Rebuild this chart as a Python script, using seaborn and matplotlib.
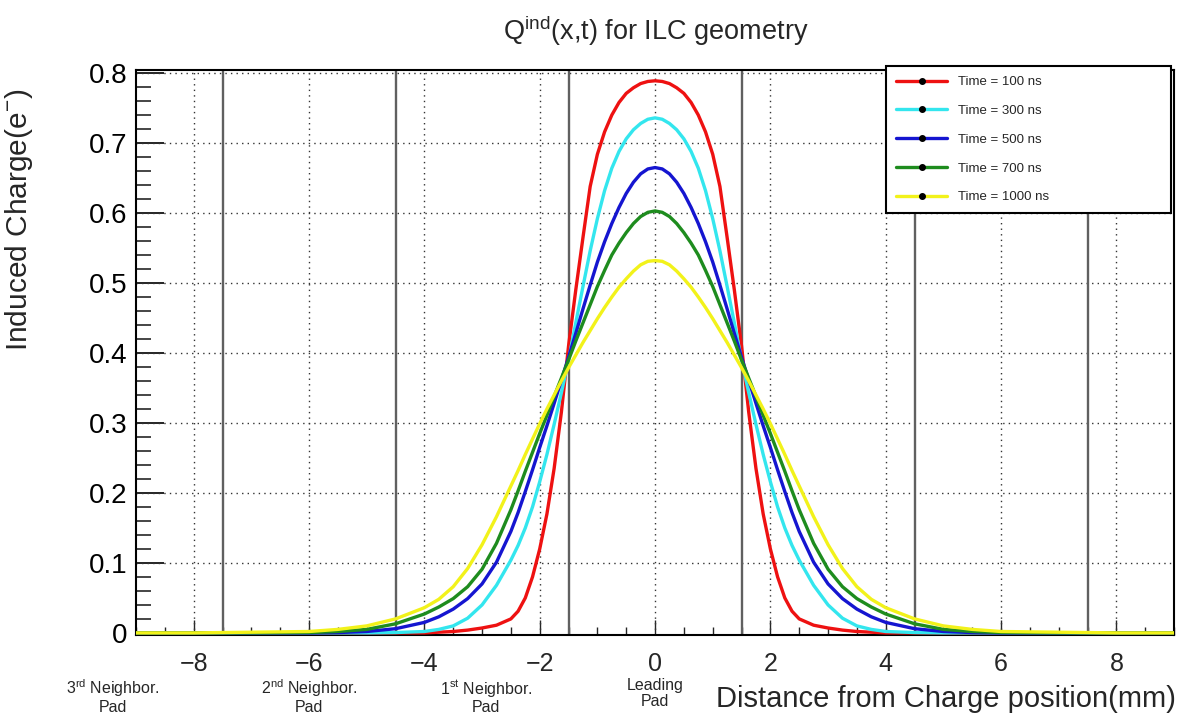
import numpy as np
import pandas as pd
import matplotlib
matplotlib.use("Agg")
import matplotlib.pyplot as plt
from matplotlib.lines import Line2D
from matplotlib.ticker import MultipleLocator
import matplotlib.transforms as mtransforms
import seaborn as sns

# ---------------- data ----------------
x_mm = [-9, -8, -7, -6, -5.5, -5, -4.5, -4, -3.75, -3.5, -3.25, -3, -2.75,
        -2.5, -2.375, -2.25, -2.125, -2, -1.875, -1.75, -1.625, -1.5, -1.375,
        -1.25, -1.125, -1, -0.875, -0.75, -0.625, -0.5, -0.375, -0.25, -0.125,
        0,
        0.125, 0.25, 0.375, 0.5, 0.625, 0.75, 0.875, 1, 1.125, 1.25, 1.375,
        1.5, 1.625, 1.75, 1.875, 2, 2.125, 2.25, 2.375, 2.5,
        2.75, 3, 3.25, 3.5, 3.75, 4, 4.5, 5, 5.5, 6, 7, 8, 9]

q_100ns = [0, 0, 0, 0, 0, 0, 0, 0, 0.001, 0.002, 0.004, 0.007, 0.011,
           0.02, 0.031, 0.05, 0.08, 0.12, 0.17, 0.235, 0.315, 0.41, 0.49,
           0.565, 0.638, 0.684, 0.716, 0.740, 0.758, 0.771, 0.779, 0.785, 0.788,
           0.789,
           0.788, 0.785, 0.779, 0.771, 0.758, 0.740, 0.716, 0.684, 0.638, 0.565, 0.49,
           0.41, 0.315, 0.235, 0.17, 0.12, 0.08, 0.05, 0.031, 0.02,
           0.011, 0.007, 0.004, 0.002, 0.001, 0, 0, 0, 0, 0, 0, 0, 0]

q_300ns = [0, 0, 0, 0, 0, 0, 0.0005, 0.002, 0.005, 0.01, 0.021, 0.04, 0.068,
           0.104, 0.125, 0.15, 0.18, 0.216, 0.255, 0.298, 0.343, 0.39, 0.443,
           0.495, 0.546, 0.592, 0.632, 0.664, 0.688, 0.706, 0.719, 0.728, 0.734,
           0.736,
           0.734, 0.728, 0.719, 0.706, 0.688, 0.664, 0.632, 0.592, 0.546, 0.495, 0.443,
           0.39, 0.343, 0.298, 0.255, 0.216, 0.18, 0.15, 0.125, 0.104,
           0.068, 0.04, 0.021, 0.01, 0.005, 0.002, 0.0005, 0, 0, 0, 0, 0, 0]

q_500ns = [0, 0, 0, 0, 0.0005, 0.002, 0.006, 0.015, 0.023, 0.034, 0.049, 0.07, 0.101,
           0.145, 0.172, 0.202, 0.233, 0.265, 0.296, 0.328, 0.361, 0.394, 0.428,
           0.463, 0.497, 0.530, 0.559, 0.585, 0.608, 0.628, 0.644, 0.656, 0.663,
           0.665,
           0.663, 0.656, 0.644, 0.628, 0.608, 0.585, 0.559, 0.530, 0.497, 0.463, 0.428,
           0.394, 0.361, 0.328, 0.296, 0.265, 0.233, 0.202, 0.172, 0.145,
           0.101, 0.07, 0.049, 0.034, 0.023, 0.015, 0.006, 0.002, 0.0005, 0, 0, 0, 0]

q_700ns = [0, 0, 0, 0.0005, 0.002, 0.005, 0.013, 0.027, 0.037, 0.049, 0.066, 0.091, 0.128,
           0.176, 0.203, 0.231, 0.258, 0.285, 0.311, 0.338, 0.364, 0.390, 0.417,
           0.443, 0.469, 0.495, 0.518, 0.540, 0.557, 0.572, 0.585, 0.595, 0.601,
           0.603,
           0.601, 0.595, 0.585, 0.572, 0.557, 0.540, 0.518, 0.495, 0.469, 0.443, 0.417,
           0.390, 0.364, 0.338, 0.311, 0.285, 0.258, 0.231, 0.203, 0.176,
           0.128, 0.091, 0.066, 0.049, 0.037, 0.027, 0.013, 0.005, 0.002, 0.0005, 0, 0, 0]

q_1000ns = [0, 0, 0.001, 0.002, 0.005, 0.01, 0.02, 0.036, 0.048, 0.066, 0.092, 0.126, 0.166,
            0.210, 0.232, 0.255, 0.277, 0.299, 0.320, 0.340, 0.360, 0.379, 0.397,
            0.415, 0.432, 0.449, 0.465, 0.480, 0.494, 0.506, 0.517, 0.526, 0.531,
            0.532,
            0.531, 0.526, 0.517, 0.506, 0.494, 0.480, 0.465, 0.449, 0.432, 0.415, 0.397,
            0.379, 0.360, 0.340, 0.320, 0.299, 0.277, 0.255, 0.232, 0.210,
            0.166, 0.126, 0.092, 0.066, 0.048, 0.036, 0.02, 0.01, 0.005, 0.002, 0.001, 0, 0]

series_labels = ["Time = 100 ns", "Time = 300 ns", "Time = 500 ns",
                 "Time = 700 ns", "Time = 1000 ns"]
series_values = [q_100ns, q_300ns, q_500ns, q_700ns, q_1000ns]
series_colors = ["#ee1111", "#33e6ee", "#1515d0", "#1e8c1e", "#f2f21a"]

pad_edges = [-7.5, -4.5, -1.5, 1.5, 4.5, 7.5]
pad_names = ["3$^{\\rm rd}$ Neighbor.\nPad", "2$^{\\rm nd}$ Neighbor.\nPad",
             "1$^{\\rm st}$ Neighbor.\nPad", "Leading\nPad"]
pad_label_x = [-9.4, -6.0, -2.93, 0.0]
pad_label_y = [0.004, 0.004, 0.004, 0.012]

x_ticks = [-8, -6, -4, -2, 0, 2, 4, 6, 8]
y_ticks = [0, 0.1, 0.2, 0.3, 0.4, 0.5, 0.6, 0.7, 0.8]
y_tick_labels = ["0", "0.1", "0.2", "0.3", "0.4", "0.5", "0.6", "0.7", "0.8"]

# ---------------- build long table ----------------
frames = []
for lab, vals in zip(series_labels, series_values):
    assert len(vals) == len(x_mm), lab
    frames.append(pd.DataFrame({"x": x_mm, "q": vals, "series": lab}))
df = pd.concat(frames, ignore_index=True)

# ---------------- style ----------------
sns.set_theme(style="white")
plt.rcParams["font.family"] = ["Liberation Sans", "DejaVu Sans"]
plt.rcParams["mathtext.fontset"] = "custom"
plt.rcParams["mathtext.rm"] = "Liberation Sans"
plt.rcParams["mathtext.it"] = "Liberation Sans:italic"
plt.rcParams["mathtext.bf"] = "Liberation Sans:bold"

fig = plt.figure(figsize=(11.79, 7.18), dpi=100)
ax = fig.add_axes([0.1154, 0.1156, 0.8804, 0.7875])

# grid (dotted) at major ticks
for xv in x_ticks:
    ax.axvline(xv, color="#333333", lw=1.0, ls=(0, (1, 3)), zorder=1)
for yv in y_ticks[1:]:
    ax.axhline(yv, color="#333333", lw=1.0, ls=(0, (1, 3)), zorder=1)

# pad boundaries
for xe in pad_edges:
    ax.axvline(xe, color="#606060", lw=1.7, zorder=2)

palette = dict(zip(series_labels, series_colors))
sns.lineplot(data=df, x="x", y="q", hue="series", palette=palette,
             hue_order=series_labels, sort=False, estimator=None,
             linewidth=2.4, ax=ax, legend=False, zorder=3)
for ln in ax.get_lines():
    ln.set_solid_joinstyle("round")

ax.set_xlim(-9, 9)
ax.set_ylim(-0.003, 0.805)
ax.set_xticks(x_ticks)
ax.set_xticklabels([("\u2212" + str(abs(t))) if t < 0 else str(t) for t in x_ticks])
ax.set_yticks(y_ticks)
ax.set_yticklabels(y_tick_labels)
ax.xaxis.set_minor_locator(MultipleLocator(0.5))
ax.yaxis.set_minor_locator(MultipleLocator(0.02))
ax.tick_params(axis="y", which="major", direction="in", length=20, width=1.2,
               labelsize=20, left=True, right=False, pad=6, colors="black")
ax.tick_params(axis="y", which="minor", direction="in", length=11, width=1.2,
               left=True, right=False)
ax.tick_params(axis="x", which="major", direction="in", length=11, width=1.0,
               labelsize=18, bottom=True, top=False, pad=12)
ax.tick_params(axis="x", which="minor", direction="in", length=6, width=1.0,
               bottom=True, top=False)
for sp in ax.spines.values():
    sp.set_color("black")
    sp.set_linewidth(1.5)

ax.set_xlabel("")
ax.set_ylabel("Induced Charge(e$^{-}$)", fontsize=21.5)
ax.yaxis.set_label_coords(-0.097, 0.735)

fig.text(0.997, 0.026, "Distance from Charge position(mm)", ha="right",
         va="center", fontsize=21)
fig.text(0.556, 0.957, "Q$^{\\rm ind}$(x,t) for ILC geometry", ha="center",
         va="center", fontsize=19.5)

trans = mtransforms.blended_transform_factory(ax.transData, fig.transFigure)
for name, px, py in zip(pad_names, pad_label_x, pad_label_y):
    ax.text(px, py, name, transform=trans, ha="center", va="bottom",
            fontsize=11.5, linespacing=1.1, clip_on=False)

# legend
handles = [Line2D([0], [0], color=c, lw=2.4, marker="o", markersize=4,
                  markerfacecolor="black", markeredgecolor="black")
           for c in series_colors]
leg = ax.legend(handles, series_labels, loc="upper left",
                bbox_to_anchor=(0.7225, 1.006, 0.275, 0.0), mode="expand",
                fontsize=9.5, handlelength=3.9, handletextpad=0.8,
                labelspacing=1.25, borderpad=0.75, numpoints=1,
                frameon=True, fancybox=False, framealpha=1.0,
                borderaxespad=0.0)
leg.get_frame().set_edgecolor("black")
leg.get_frame().set_linewidth(1.5)
leg.set_zorder(10)

fig.savefig("out.png", dpi=100)
